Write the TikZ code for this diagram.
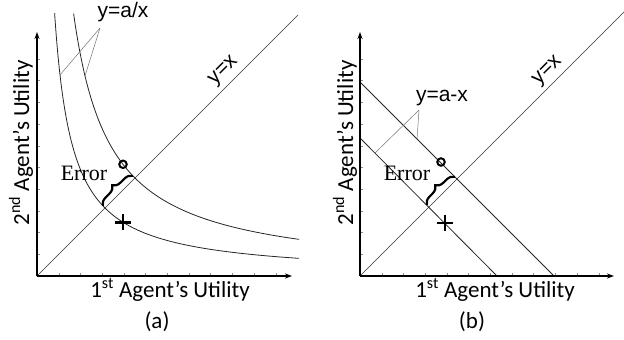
\documentclass[tikz,border=0pt]{standalone}
\usepackage{fontspec}
\setmainfont{Liberation Serif}
\newfontfamily\axfont{Carlito}
\newfontfamily\eqfont{Liberation Sans}
\usetikzlibrary{arrows.meta, positioning, calc, decorations.pathreplacing, shapes.misc}
\tikzset{
    axis/.style={line width=1.6pt, -{Stealth[length=7pt, width=5pt]}},
    curve/.style={line width=0.8pt, black!85},
    diag/.style={line width=0.6pt, black!80},
    leader/.style={line width=0.5pt, black!55},
    tickmark/.style={line width=0.4pt, black!45},
    axlabel/.style={font=\axfont\fontsize{23}{26}\selectfont, inner sep=0pt},
    eqlabel/.style={font=\eqfont\fontsize{21}{24}\selectfont, inner sep=0pt},
    errlabel/.style={font=\fontsize{22}{26}\selectfont, inner sep=0pt},
    circmark/.style={circle, draw, line width=2pt, minimum size=7.5pt, inner sep=0pt},
    plusmark/.style={cross out, draw, rotate=45, line width=2.8pt, minimum size=8.5pt, inner sep=0pt},
    errbrace/.style={decorate, decoration={brace, amplitude=8pt, raise=3pt}, line width=2.2pt}
}

\begin{document}
\begin{tikzpicture}[x=1pt, y=1pt]
    \useasboundingbox (0,0) rectangle (624,340);

    % (a) hyperbolas
    \begin{scope}[shift={(37,64)}]
      \coordinate (oA) at (0,0);
      \foreach \i in {1,...,11} \draw[tickmark] (\i*21.7,0) -- ++(0,3);
      \foreach \i in {1,...,10} \draw[tickmark] (0,\i*21.7) -- ++(3,0);
      \coordinate (xA) at (255,0);
      \coordinate (yA) at (0,244);
      \coordinate (dA) at (261,261);
      \draw[diag] (oA) -- (dA);
      \draw[curve] plot[domain=17.6:262, samples=120, smooth] (\x, {4624/\x});
      \draw[curve] plot[domain=36.6:262, samples=120, smooth] (\x, {9604/\x});
      \draw[axis] (oA) -- (xA);
      \draw[axis] (oA) -- (yA);

      \node[circmark] (hiptA) at (86,111.7) {};
      \node[plusmark] (loptA) at (86,53.8) {};
      \coordinate (loA) at (68,68);
      \coordinate (hiA) at (98,98);
      \draw[errbrace] (loA) -- (hiA);
      \node[errlabel] (errA) at (47,103) {Error};

      \node[eqlabel] (eqA) at (86,264) {y=a/x};
      \coordinate (ldA) at (63,248);
      \coordinate (inA) at (23,{4624/23});
      \coordinate (outA) at (48,{9604/48});
      \draw[leader] (ldA) -- (inA);
      \draw[leader] (ldA) -- (outA);
      \node[eqlabel, rotate=45] (diagA) at (187,205) {y=x};

      \node[axlabel, rotate=90] (ylabA) at (-16,133) {2\textsuperscript{nd} Agent’s Utility};
      \node[axlabel] (xlabA) at (133,-14) {1\textsuperscript{st} Agent’s Utility};
      \node[axlabel] (capA) at (120,-46) {(a)};
    \end{scope}

    % (b) straight lines
    \begin{scope}[shift={(360,64)}]
      \coordinate (oB) at (0,0);
      \foreach \i in {1,...,11} \draw[tickmark] (\i*21.7,0) -- ++(0,3);
      \foreach \i in {1,...,10} \draw[tickmark] (0,\i*21.7) -- ++(3,0);
      \coordinate (xB) at (254,0);
      \coordinate (yB) at (0,244);
      \coordinate (dB) at (264,264);
      \draw[diag] (oB) -- (dB);
      \coordinate (inyB) at (0,138);
      \coordinate (inxB) at (137,0);
      \coordinate (outyB) at (0,194);
      \coordinate (outxB) at (194,0);
      \draw[curve] (inyB) -- (inxB);
      \draw[curve] (outyB) -- (outxB);
      \draw[axis] (oB) -- (xB);
      \draw[axis] (oB) -- (yB);

      \node[circmark] (hiptB) at (81,114) {};
      \node[plusmark] (loptB) at (85,53) {};
      \coordinate (loB) at (69,69);
      \coordinate (hiB) at (97,97);
      \draw[errbrace] (loB) -- (hiB);
      \node[errlabel] (errB) at (47,103) {Error};

      \node[eqlabel] (eqB) at (82,178) {y=a-x};
      \coordinate (ldB) at (59,166);
      \coordinate (inB) at (15,123);
      \coordinate (outB) at (57,137);
      \draw[leader] (ldB) -- (inB);
      \draw[leader] (ldB) -- (outB);
      \node[eqlabel, rotate=45] (diagB) at (188,205) {y=x};

      \node[axlabel, rotate=90] (ylabB) at (-15,133) {2\textsuperscript{nd} Agent’s Utility};
      \node[axlabel] (xlabB) at (135,-14) {1\textsuperscript{st} Agent’s Utility};
      \node[axlabel] (capB) at (112,-46) {(b)};
    \end{scope}
\end{tikzpicture}
\end{document}
